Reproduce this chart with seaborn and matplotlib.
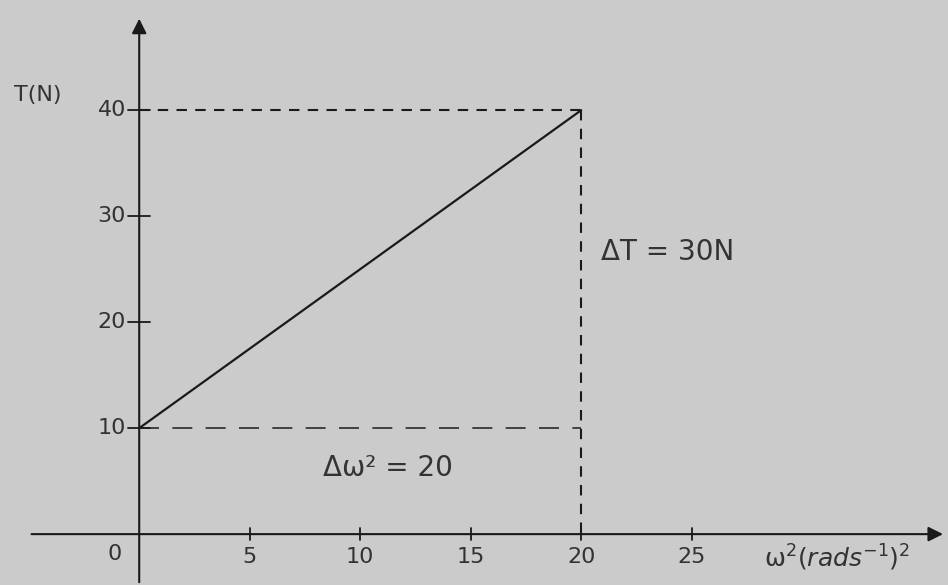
import seaborn as sns
import matplotlib.pyplot as plt
import numpy as np
import pandas as pd

# Tension vs omega squared (straight line)
omega_sq = [0, 20]
tension = [10, 40]
x_ticks = [5, 10, 15, 20, 25]
y_ticks = [10, 20, 30, 40]
delta_T = 30
delta_w2 = 20

df = pd.DataFrame({'w2': omega_sq, 'T': tension})

sns.set_style('white')
paper = '#cbcbcb'
fig = plt.figure(figsize=(9.48, 5.85), dpi=100, facecolor=paper)
ax = fig.add_axes([0, 0, 1, 1], facecolor=paper)

sns.lineplot(x='w2', y='T', data=df, color='#1a1a1a', linewidth=1.6, ax=ax)

#Dashed guide lines
ax.plot([0, omega_sq[1]], [tension[1], tension[1]], ls=(0, (5, 4)), color='#1a1a1a', lw=1.5)
ax.plot([omega_sq[1], omega_sq[1]], [tension[1], 0], ls=(0, (5, 4)), color='#1a1a1a', lw=1.5)
ax.plot([0, omega_sq[1]], [tension[0], tension[0]], ls=(0, (12, 8)), color='#2a2a2a', lw=1.2)

ax.set_xlim(-6.3, 36.6)
ax.set_ylim(-4.8, 50.4)
for s in ax.spines.values():
    s.set_visible(False)
ax.set_xticks([])
ax.set_yticks([])
ax.set_xlabel('')
ax.set_ylabel('')

#Axes drawn as arrows
ax.annotate('', xy=(36.5, 0), xytext=(-5, 0),
            arrowprops=dict(arrowstyle='-|>', color='#1a1a1a', lw=1.5, mutation_scale=22))
ax.annotate('', xy=(0, 48.9), xytext=(0, -4.8),
            arrowprops=dict(arrowstyle='-|>', color='#1a1a1a', lw=1.5, mutation_scale=22))

for t in y_ticks:
    ax.plot([-0.5, 0.5], [t, t], color='#1a1a1a', lw=1.3)
    ax.text(-0.6, t, str(t), ha='right', va='center', fontsize=16, color='#333333')
for t in x_ticks:
    ax.plot([t, t], [-0.6, 0.6], color='#1a1a1a', lw=1.3)
    ax.text(t, -2.2, str(t), ha='center', va='center', fontsize=16, color='#333333')
ax.text(-0.8, -1.9, '0', ha='right', va='center', fontsize=16, color='#333333')

ax.text(-4.6, 41.4, 'T(N)', ha='center', va='center', fontsize=16, color='#333333')
ax.text(31.6, -2.2, r'ω$^2$$(rads^{-1})^2$', ha='center', va='center', fontsize=18, color='#333333')

ax.text(20.9, 26.6, 'ΔT = %dN' % delta_T, ha='left', va='center', fontsize=20, color='#333333')
ax.text(8.3, 6.2, 'Δω² = %d' % delta_w2, ha='left', va='center', fontsize=20, color='#333333')

fig.savefig('out.png', dpi=100, facecolor=paper)
